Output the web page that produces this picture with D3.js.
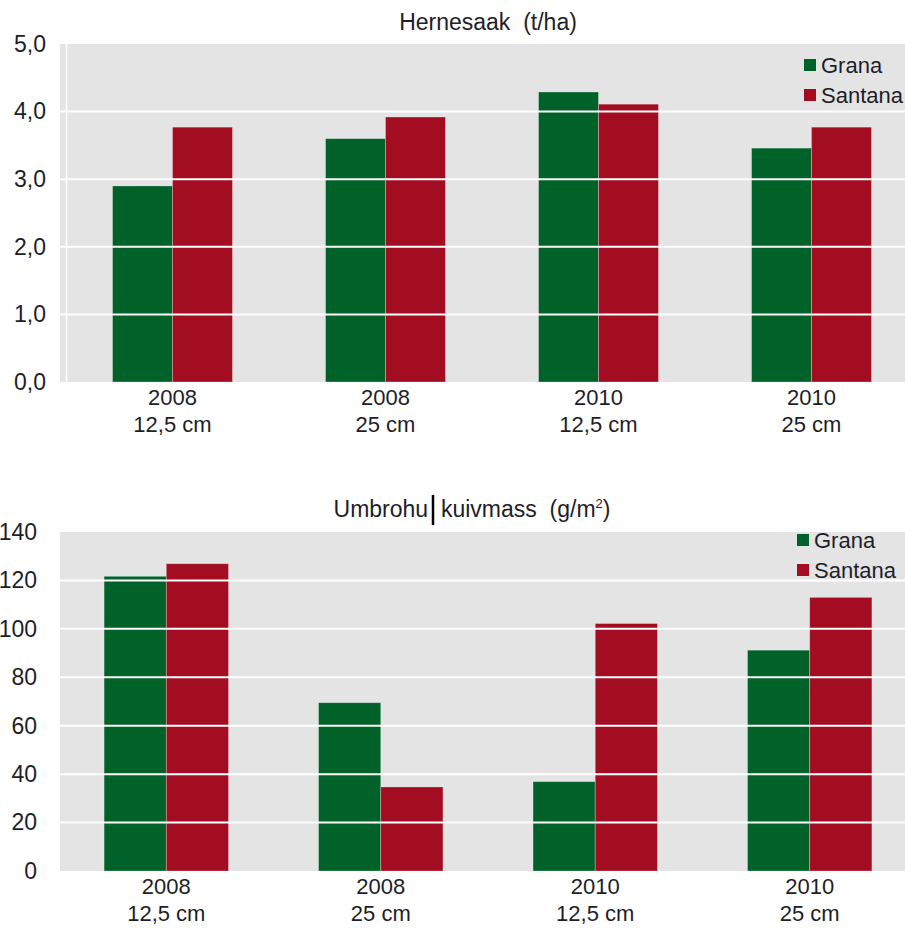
<!DOCTYPE html>
<html>
<head>
<meta charset="utf-8">
<script src="https://cdn.jsdelivr.net/npm/d3@7"></script>
<style>
  body { margin: 0; background: #fff; }
  svg text { font-family: "Liberation Sans", "DejaVu Sans", sans-serif; fill: #1e1e28; }
  .title { white-space: pre; }
</style>
</head>
<body>
<div id="chart"></div>
<script>
// categories (two-line labels)
const catYears = ['2008', '2008', '2010', '2010'];
const catRows = ['12,5 cm', '25 cm', '12,5 cm', '25 cm'];
const seriesNames = ['Grana', 'Santana'];
const seriesColors = ['#006129', '#a30d22'];

// Hernesaak (t/ha)
const yieldGrana = [2.9, 3.6, 4.29, 3.46];
const yieldSantana = [3.77, 3.92, 4.11, 3.77];
const yieldTicks = [0, 1, 2, 3, 4, 5];

// Umbrohu kuivmass (g/m2)
const weedGrana = [121.7, 69.5, 36.9, 91.2];
const weedSantana = [126.9, 34.7, 102.2, 113];
const weedTicks = [0, 20, 40, 60, 80, 100, 120, 140];

const W = 905, H = 928;

const svg = d3.select('#chart')
	.append('svg')
	.attr('width', W)
	.attr('height', H);

function drawChart(opt){
	const g = svg.append('g');

	const rows = catYears.map((y, i) => ({
		year: y, row: catRows[i],
		vals: [opt.grana[i], opt.santana[i]]
	}));

	const x0 = d3.scaleBand()
		.domain(d3.range(rows.length))
		.range(opt.xRange)
		.paddingInner(opt.padInner)
		.paddingOuter(opt.padOuter);

	const x1 = d3.scaleBand()
		.domain(d3.range(seriesNames.length))
		.range([0, x0.bandwidth()]);

	const y = d3.scaleLinear()
		.domain([0, opt.max])
		.range([opt.bottom, opt.top]);

	// plot background
	g.append('rect')
		.attr('x', opt.left)
		.attr('y', opt.top)
		.attr('width', W - opt.left)
		.attr('height', opt.bottom - opt.top)
		.attr('fill', '#e4e4e4');

	if (opt.innerLine) {
		g.append('line')
			.attr('x1', opt.left + 6.5).attr('x2', opt.left + 6.5)
			.attr('y1', opt.top).attr('y2', opt.bottom)
			.attr('stroke', '#fff').attr('stroke-width', 1.5);
	}

	const groups = g.selectAll('g.grp')
		.data(rows)
		.enter()
		.append('g')
		.attr('class', 'grp')
		.attr('transform', (d, i) => `translate(${x0(i)},0)`);

	groups.selectAll('rect')
		.data(d => d.vals)
		.enter()
		.append('rect')
		.attr('x', (d, i) => x1(i))
		.attr('width', x1.bandwidth())
		.attr('y', d => y(d))
		.attr('height', d => y(0) - y(d))
		.attr('fill', (d, i) => seriesColors[i])
		.attr('stroke', 'rgba(255,255,255,0.35)')
		.attr('stroke-width', 0.8);

	// gridlines drawn over bars (white)
	g.selectAll('line.grid')
		.data(opt.ticks.filter(t => t > 0 && t < opt.max))
		.enter()
		.append('line')
		.attr('class', 'grid')
		.attr('x1', opt.left).attr('x2', W)
		.attr('y1', d => y(d)).attr('y2', d => y(d))
		.attr('stroke', '#fff')
		.attr('stroke-width', 2);

	// y axis labels
	const yAxis = d3.axisLeft(y)
		.tickValues(opt.ticks)
		.tickSize(0)
		.tickPadding(0)
		.tickFormat(opt.fmt);

	const ya = g.append('g')
		.attr('transform', `translate(${opt.labelX},0)`)
		.call(yAxis);
	ya.select('.domain').remove();
	ya.selectAll('text')
		.attr('font-size', 23)
		.attr('fill', '#1e1e28')
		.attr('font-family', '"Liberation Sans", sans-serif');

	// category labels
	const xl = g.selectAll('text.cat')
		.data(rows)
		.enter()
		.append('text')
		.attr('class', 'cat')
		.attr('text-anchor', 'middle')
		.attr('font-size', 22)
		.attr('x', (d, i) => x0(i) + x0.bandwidth() / 2);
	xl.append('tspan')
		.attr('x', (d, i) => x0(i) + x0.bandwidth() / 2)
		.attr('y', opt.bottom + 23)
		.text(d => d.year);
	xl.append('tspan')
		.attr('x', (d, i) => x0(i) + x0.bandwidth() / 2)
		.attr('y', opt.bottom + 50)
		.text(d => d.row);

	// title
	const title = g.append('text')
		.attr('class', 'title')
		.attr('x', opt.titleX)
		.attr('y', opt.titleY)
		.attr('text-anchor', 'middle')
		.attr('font-size', 23);
	opt.title(title);

	// legend (clipped to a band inside the plot area)
	const clipId = 'clip' + opt.id;
	g.append('clipPath').attr('id', clipId)
		.append('rect')
		.attr('x', opt.left).attr('y', opt.legendClip[0])
		.attr('width', W - opt.left)
		.attr('height', opt.legendClip[1] - opt.legendClip[0]);

	const legend = g.append('g')
		.attr('clip-path', `url(#${clipId})`)
		.append('g')
		.attr('transform', `translate(${opt.legendX},${opt.legendY})`);

	const li = legend.selectAll('g')
		.data(seriesNames)
		.enter()
		.append('g')
		.attr('transform', (d, i) => `translate(0,${i * 30})`);
	li.append('rect')
		.attr('width', 12).attr('height', 12)
		.attr('y', -12)
		.attr('fill', (d, i) => seriesColors[i]);
	li.append('text')
		.attr('x', 17)
		.attr('y', 2)
		.attr('font-size', 22)
		.text(d => d);
}

const commaFmt = d => d3.format('.1f')(d).replace('.', ',');

drawChart({
	id: 'a',
	grana: yieldGrana, santana: yieldSantana,
	ticks: yieldTicks, max: 5, fmt: commaFmt,
	left: 60, top: 44, bottom: 382,
	xRange: [66, 918], padInner: 0.437, padOuter: 0.2185,
	labelX: 46, innerLine: true,
	titleX: 488, titleY: 30,
	title: t => t.text('Hernesaak  (t/ha)'),
	legendX: 804, legendY: 71, legendClip: [44, 112]
});

drawChart({
	id: 'b',
	grana: weedGrana, santana: weedSantana,
	ticks: weedTicks, max: 140, fmt: d3.format('d'),
	left: 60, top: 532, bottom: 871,
	xRange: [60, 916], padInner: 0.42, padOuter: 0.2056,
	labelX: 37, innerLine: false,
	titleX: 472, titleY: 517,
	title: t => {
		t.append('tspan').text('Umbrohu  kuivmass  (g/m');
		t.append('tspan').attr('font-size', 13).attr('dy', -9).text('2');
		t.append('tspan').attr('dy', 9).text(')');
	},
	legendX: 797, legendY: 546, legendClip: [532, 578]
});

// text cursor mark visible in the original next to "Umbrohu"
svg.append('line')
	.attr('x1', 433).attr('x2', 433)
	.attr('y1', 495).attr('y2', 525)
	.attr('stroke', '#000').attr('stroke-width', 2.5);
</script>
</body>
</html>
